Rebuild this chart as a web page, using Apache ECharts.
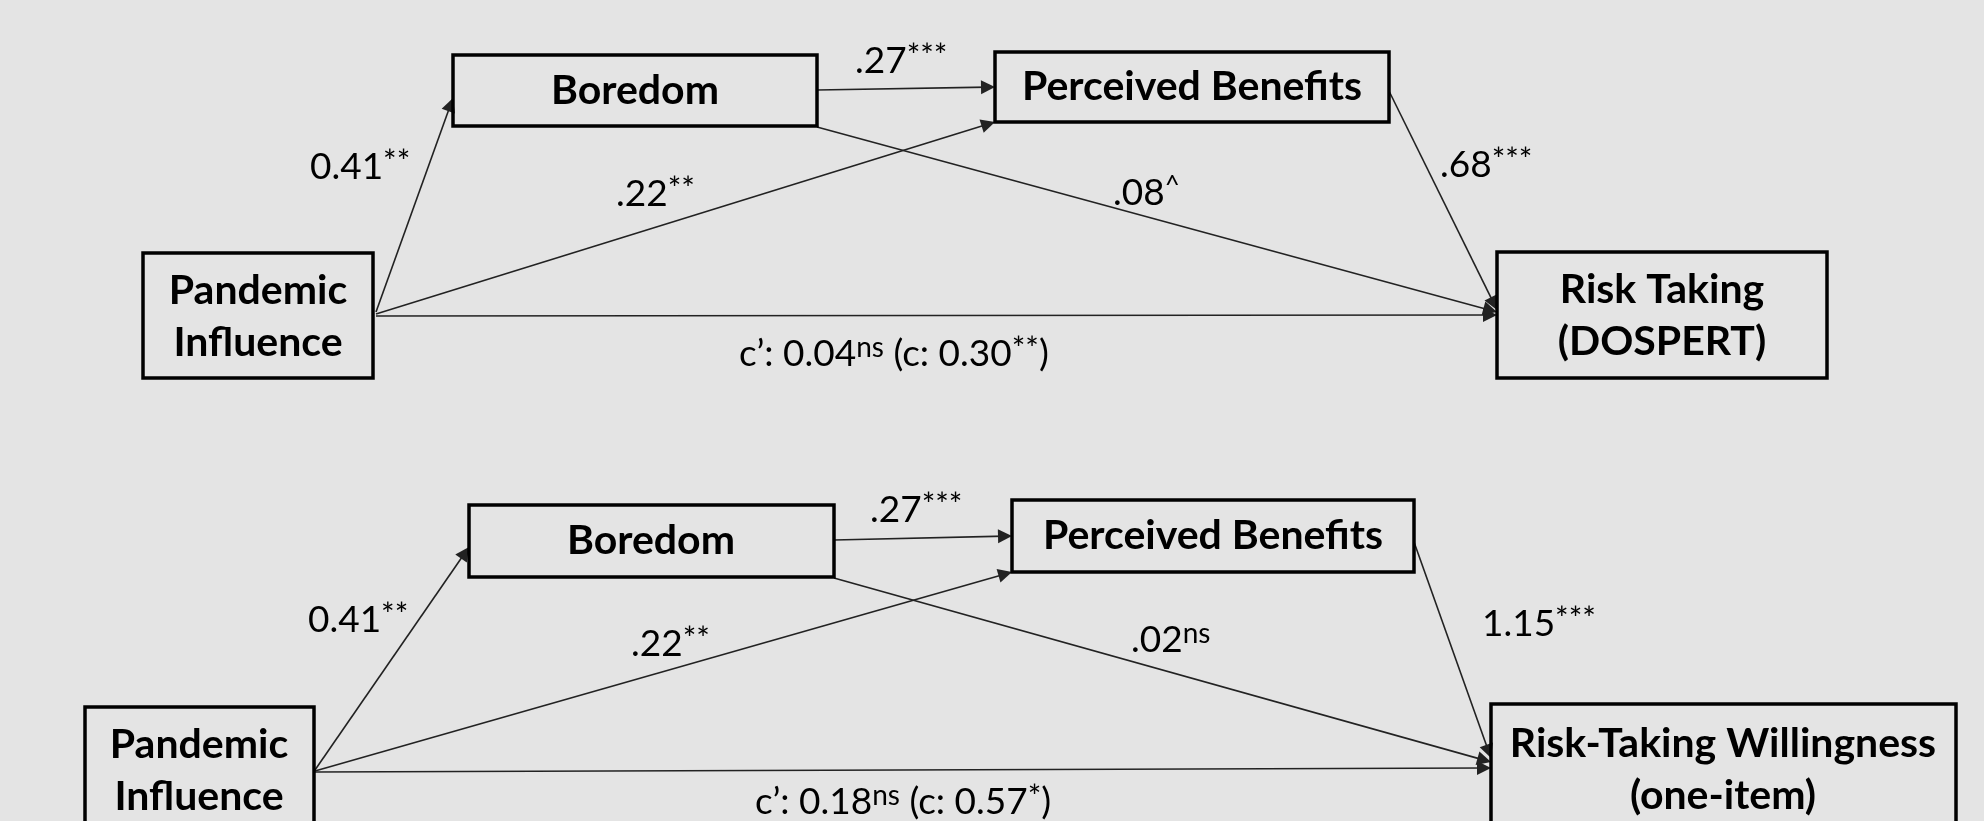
<!DOCTYPE html>
<html>
<head>
<meta charset="utf-8">
<script src="https://cdn.jsdelivr.net/npm/echarts@6/dist/echarts.min.js"></script>
<style>
  html, body { margin: 0; padding: 0; background: #e4e4e4; }
  #chart { width: 1984px; height: 821px; }
</style>
</head>
<body>
<div id="chart"></div>
<script>
// Variables of the two serial mediation models
const predictors = ['Pandemic\nInfluence', 'Pandemic\nInfluence'];
const mediator1 = ['Boredom', 'Boredom'];
const mediator2 = ['Perceived Benefits', 'Perceived Benefits'];
const outcomes = ['Risk Taking\n(DOSPERT)', 'Risk-Taking Willingness\n(one-item)'];

// Path coefficients per model: [estimate, significance]
const pathA1 = [['0.41', '**'], ['0.41', '**']];   // predictor -> boredom
const pathA2 = [['.22', '**'], ['.22', '**']];     // predictor -> perceived benefits
const pathD = [['.27', '***'], ['.27', '***']];    // boredom -> perceived benefits
const pathB1 = [['.08', '^'], ['.02', 'ns']];      // boredom -> outcome
const pathB2 = [['.68', '***'], ['1.15', '***']];  // perceived benefits -> outcome
const directEffect = [['0.04', 'ns'], ['0.18', 'ns']];
const totalEffect = [['0.30', '**'], ['0.57', '*']];

// Diagram layout (pixel space of the canvas)
const layouts = [
  {
    boxes: { X: [143, 253, 373, 378], M1: [453, 55, 817, 126], M2: [995, 52, 1389, 122], Y: [1497, 252, 1827, 378] },
    textAt: { X: [258, 317], M1: [635, 91], M2: [1192, 87], Y: [1662, 316] },
    edges: {
      a1: [[376, 312], [453, 98]], a2: [[376, 314], [995, 122]], c: [[376, 316], [1497, 315]],
      d: [[817, 90], [995, 87]], b1: [[817, 127], [1497, 312]], b2: [[1389, 91], [1497, 310]]
    },
    labelAt: { a1: [310, 167], a2: [616, 194], c: [739, 354], d: [855, 61], b1: [1113, 193], b2: [1440, 165] }
  },
  {
    boxes: { X: [85, 707, 314, 860], M1: [469, 505, 834, 577], M2: [1012, 500, 1414, 572], Y: [1491, 704, 1956, 860] },
    textAt: { X: [199, 771], M1: [651, 541], M2: [1213, 536], Y: [1723, 770] },
    edges: {
      a1: [[315, 770], [469, 547]], a2: [[315, 771], [1012, 572]], c: [[315, 772], [1491, 768]],
      d: [[834, 540], [1012, 536]], b1: [[834, 578], [1491, 762]], b2: [[1414, 542], [1491, 758]]
    },
    labelAt: { a1: [308, 620], a2: [631, 644], c: [755, 802], d: [870, 510], b1: [1131, 640], b2: [1482, 624] }
  }
];

const ARROW_W = 11, ARROW_L = 14;
const FONT = 'Lato, "Open Sans", sans-serif';

const boxData = [], boxTexts = [];
const lineData = [];
const labelData = [];

// significance markers: asterisks drawn larger than the "ns" tag, caret smaller
function sigText(sig) {
  if (sig === 'ns') return '{n|ns}';
  if (sig === '^') return '{c|^}';
  return '{s|' + sig + '}';
}
function coefText(c) { return '{m|' + c[0] + '}' + sigText(c[1]); }

layouts.forEach(function (L, k) {
  const names = { X: predictors[k], M1: mediator1[k], M2: mediator2[k], Y: outcomes[k] };
  Object.keys(L.boxes).forEach(function (key) {
    const b = L.boxes[key], t = L.textAt[key];
    boxData.push([b[0], b[1], b[2], b[3], t[0], t[1]]);
    boxTexts.push(names[key]);
  });
  Object.keys(L.edges).forEach(function (key) {
    const e = L.edges[key];
    const dx = e[1][0] - e[0][0], dy = e[1][1] - e[0][1];
    const len = Math.sqrt(dx * dx + dy * dy);
    // pull the end back so the arrow tip lands on the box edge
    const end = [e[1][0] - dx / len * ARROW_L / 2, e[1][1] - dy / len * ARROW_L / 2];
    lineData.push({ coords: [e[0], end] });
  });
  const texts = {
    a1: coefText(pathA1[k]),
    a2: coefText(pathA2[k]),
    d: coefText(pathD[k]),
    b1: coefText(pathB1[k]),
    b2: coefText(pathB2[k]),
    c: '{m|c\u2019: ' + directEffect[k][0] + '}' + sigText(directEffect[k][1]) + '{m| (c: ' +
       totalEffect[k][0] + '}' + sigText(totalEffect[k][1]) + '{m|)}'
  };
  Object.keys(L.labelAt).forEach(function (key) {
    labelData.push({ value: L.labelAt[key], text: texts[key] });
  });
});

const chart = echarts.init(document.getElementById('chart'), null, { renderer: 'canvas' });
chart.setOption({
  backgroundColor: '#e4e4e4',
  animation: false,
  grid: { left: 0, right: 0, top: 0, bottom: 0 },
  xAxis: { type: 'value', min: 0, max: 1984, show: false },
  yAxis: { type: 'value', min: 0, max: 821, inverse: true, show: false },
  series: [
    {
      type: 'lines',
      coordinateSystem: 'cartesian2d',
      z: 2,
      symbol: ['none', 'triangle'],
      symbolSize: [ARROW_W, ARROW_L],
      lineStyle: { color: '#222', width: 1.6, opacity: 1 },
      itemStyle: { color: '#000' },
      data: lineData,
      silent: true
    },
    {
      type: 'custom',
      z: 3,
      clip: false,
      silent: true,
      encode: { x: [0, 2, 4], y: [1, 3, 5] },
      data: boxData,
      renderItem: function (params, api) {
        const p0 = api.coord([api.value(0), api.value(1)]);
        const p1 = api.coord([api.value(2), api.value(3)]);
        const t = api.coord([api.value(4), api.value(5)]);
        return {
          type: 'group',
          children: [
            {
              type: 'rect',
              shape: { x: p0[0], y: p0[1], width: p1[0] - p0[0], height: p1[1] - p0[1] },
              style: { fill: 'none', stroke: '#000', lineWidth: 3.5 }
            },
            {
              type: 'text',
              style: {
                text: boxTexts[params.dataIndex], x: t[0], y: t[1],
                align: 'center', verticalAlign: 'middle',
                font: 'bold 41px ' + FONT, lineHeight: 52, fill: '#000'
              }
            }
          ]
        };
      }
    },
    {
      type: 'scatter',
      z: 4,
      symbolSize: 0,
      silent: true,
      itemStyle: { opacity: 1 },
      data: labelData,
      label: {
        show: true,
        position: 'inside',
        align: 'left',
        verticalAlign: 'middle',
        color: '#000',
        formatter: function (p) { return p.data.text; },
        rich: {
          m: { fontFamily: FONT, fontSize: 37, color: '#000', lineHeight: 40 },
          s: { fontFamily: FONT, fontSize: 32, color: '#000', lineHeight: 24, verticalAlign: 'top' },
          c: { fontFamily: FONT, fontSize: 26, color: '#000', lineHeight: 22, verticalAlign: 'top' },
          n: { fontFamily: FONT, fontSize: 28, color: '#000', lineHeight: 29, verticalAlign: 'top' }
        }
      }
    }
  ]
});
</script>
</body>
</html>
